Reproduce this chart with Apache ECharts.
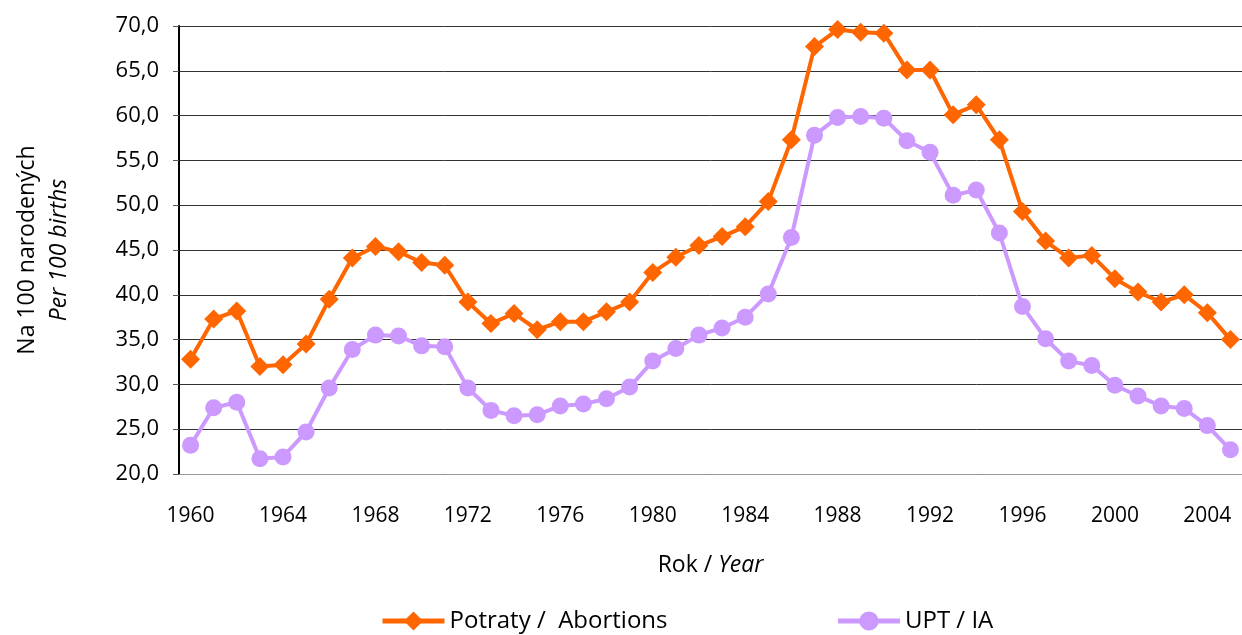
<!DOCTYPE html>
<html>
<head>
<meta charset="utf-8">
<script src="https://cdn.jsdelivr.net/npm/echarts@6/dist/echarts.min.js"></script>
<style>html,body{margin:0;padding:0;background:#fff}#c{width:1242px;height:635px}</style>
</head>
<body>
<div id="c"></div>
<script>
const years = [];
for (let y = 1960; y <= 2005; y++) years.push(String(y));
const abortions = [32.8,37.3,38.2,32.0,32.2,34.5,39.5,44.1,45.4,44.8,43.6,43.3,39.2,36.8,37.9,36.1,37.0,37.0,38.1,39.2,42.5,44.2,45.5,46.5,47.6,50.4,57.3,67.7,69.6,69.3,69.2,65.1,65.1,60.1,61.2,57.3,49.3,46.0,44.1,44.4,41.8,40.3,39.2,40.0,38.0,35.0];
const induced = [23.2,27.4,28.0,21.7,21.9,24.7,29.6,33.9,35.5,35.4,34.3,34.2,29.6,27.1,26.5,26.6,27.6,27.8,28.4,29.7,32.6,34.0,35.5,36.3,37.5,40.1,46.4,57.8,59.8,59.9,59.7,57.2,55.9,51.1,51.7,46.9,38.7,35.1,32.6,32.1,29.9,28.7,27.6,27.3,25.4,22.7];
const seriesNames = ['Potraty /  Abortions', 'UPT / IA'];
const FONT = 'Open Sans';
const chart = echarts.init(document.getElementById('c'));
chart.setOption({
  animation: false,
  textStyle: { fontFamily: FONT, color: '#000' },
  grid: { left: 179, right: 0, top: 26, bottom: 161 },
  legend: {
    left: 375, top: 604, itemWidth: 62, itemHeight: 24, itemGap: 168,
    lineStyle: { width: 5 },
    textStyle: { fontFamily: FONT, fontSize: 24, color: '#000' },
    data: seriesNames
  },
  xAxis: {
    type: 'category', data: years, boundaryGap: true,
    axisLine: { lineStyle: { color: '#999', width: 1 } },
    axisTick: { interval: 0, length: 6, lineStyle: { color: '#555' } },
    axisLabel: { interval: 3, fontSize: 21, color: '#000', margin: 32, fontFamily: FONT },
    name: '{a|Rok / }{b|Year}', nameLocation: 'middle', nameGap: 80,
    nameTextStyle: { rich: { a: { fontSize: 23, fontFamily: FONT, color: '#000' }, b: { fontSize: 23, fontStyle: 'italic', fontFamily: FONT, color: '#000' } } }
  },
  yAxis: {
    type: 'value', min: 20, max: 70, interval: 5,
    axisLine: { show: true, lineStyle: { color: '#000', width: 2 } },
    axisTick: { show: true, length: 6, lineStyle: { color: '#555' } },
    axisLabel: { fontSize: 22, color: '#000', margin: 20, fontFamily: FONT, formatter: v => v.toFixed(1).replace('.', ',') },
    splitLine: { lineStyle: { color: '#333', width: 1 } },
    name: '{a|Na 100 narodených}\n{b|Per 100 births}', nameLocation: 'middle', nameGap: 104, nameRotate: 90,
    nameTextStyle: { align: 'center', rich: { a: { fontSize: 23, fontFamily: FONT, color: '#000', lineHeight: 32, align: 'center' }, b: { fontSize: 23, fontStyle: 'italic', fontFamily: FONT, color: '#000', lineHeight: 32, align: 'center' } } }
  },
  series: [
    { name: seriesNames[0], type: 'line', data: abortions, symbol: 'diamond', symbolSize: 19, showAllSymbol: true,
      lineStyle: { color: '#FF6600', width: 4 }, itemStyle: { color: '#FF6600' } },
    { name: seriesNames[1], type: 'line', data: induced, symbol: 'circle', symbolSize: 17, showAllSymbol: true,
      lineStyle: { color: '#CC99FF', width: 4 }, itemStyle: { color: '#CC99FF' } }
  ]
});
</script>
</body>
</html>
